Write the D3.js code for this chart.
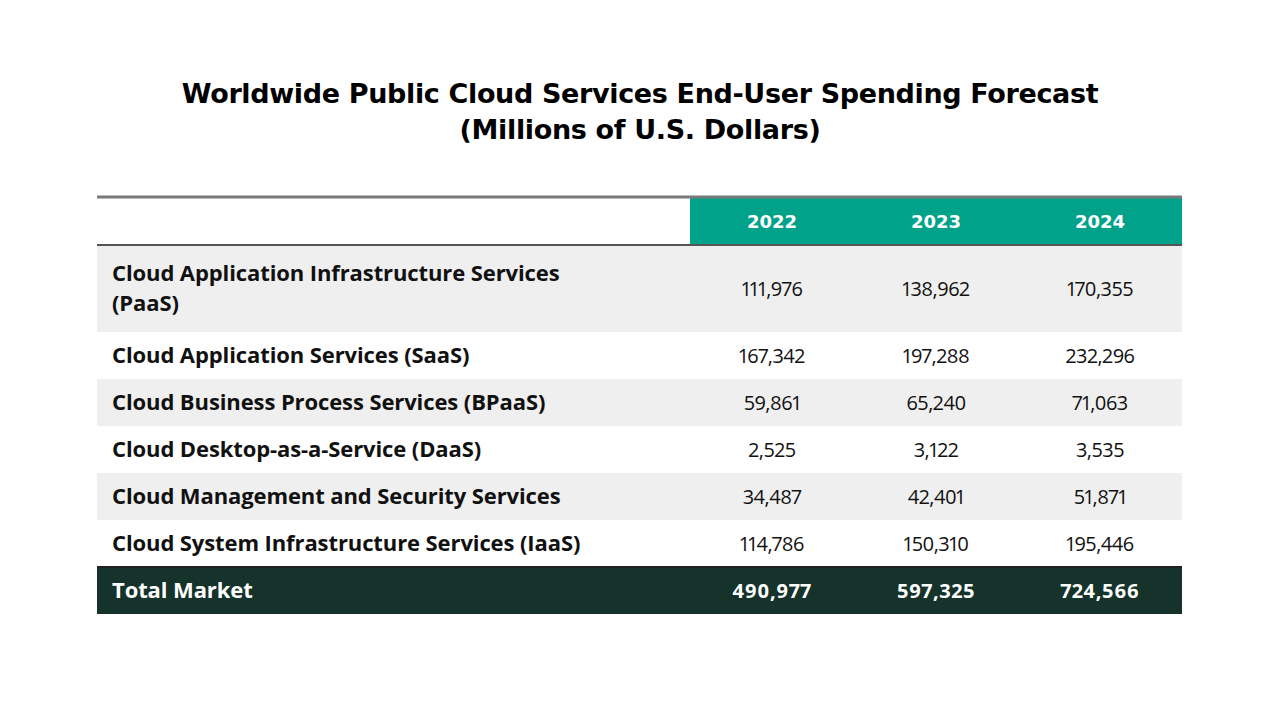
<!DOCTYPE html>
<html>
<head>
<meta charset="utf-8">
<script src="https://cdn.jsdelivr.net/npm/d3@7"></script>
<style>
  body { margin: 0; background: #fff; }
  svg text { font-family: "DejaVu Sans", sans-serif; }
  svg text.label { font-family: "Open Sans", sans-serif; }
  svg text.val { font-family: "Open Sans", sans-serif; font-variant-numeric: proportional-nums; }
</style>
</head>
<body>
<div id="chart"></div>
<script>
/* DATA */
const titleLines = ["Worldwide Public Cloud Services End-User Spending Forecast", "(Millions of U.S. Dollars)"];
const years = ["2022", "2023", "2024"];
const categories = [
  ["Cloud Application Infrastructure Services", "(PaaS)"],
  ["Cloud Application Services (SaaS)"],
  ["Cloud Business Process Services (BPaaS)"],
  ["Cloud Desktop-as-a-Service (DaaS)"],
  ["Cloud Management and Security Services"],
  ["Cloud System Infrastructure Services (IaaS)"]
];
const values2022 = [111976, 167342, 59861, 2525, 34487, 114786];
const values2023 = [138962, 197288, 65240, 3122, 42401, 150310];
const values2024 = [170355, 232296, 71063, 3535, 51871, 195446];
const totalLabel = "Total Market";
const totals = [490977, 597325, 724566];

/* LAYOUT */
const width = 1280, height = 720;
const tableLeft = 97, tableRight = 1182, labelColEnd = 690;
const tableTop = 198;
const rowUnit = 47;        // height of a one-line row
const lineStep = 30;       // extra height per extra label line
const fmt = d3.format(",");

const svg = d3.select("#chart").append("svg")
  .attr("width", width).attr("height", height);

// title
svg.selectAll(".title")
  .data(titleLines)
  .join("text")
  .attr("class", "title")
  .attr("x", width / 2)
  .attr("y", (d, i) => 103 + i * 36)
  .attr("text-anchor", "middle")
  .attr("font-size", 27)
  .attr("font-weight", 700)
  .attr("letter-spacing", -0.35)
  .attr("fill", "#000")
  .text(d => d);

// columns
const xScale = d3.scaleBand()
  .domain(years)
  .range([labelColEnd, tableRight]);

// rows: header, categories, total
const rows = [{ type: "header", lines: 1 }]
  .concat(categories.map((c, i) => ({
    type: "body", i, lines: c.length, label: c,
    vals: [values2022[i], values2023[i], values2024[i]]
  })))
  .concat([{ type: "total", lines: 1, label: [totalLabel], vals: totals }]);

let acc = 0;
rows.forEach(r => {
  r.h = r.type === "header" ? 47 : rowUnit + (r.lines - 1) * lineStep + (r.lines > 1 ? 10 : 0);
  r.y0 = acc; acc += r.h;
});
const yScale = d3.scaleLinear().domain([0, acc]).range([tableTop, tableTop + acc]);

// row backgrounds
svg.selectAll(".rowbg")
  .data(rows)
  .join("rect")
  .attr("class", "rowbg")
  .attr("x", tableLeft)
  .attr("width", tableRight - tableLeft)
  .attr("y", d => yScale(d.y0))
  .attr("height", d => yScale(d.y0 + d.h) - yScale(d.y0))
  .attr("fill", d => d.type === "total" ? "#15332b" : d.type === "header" ? "#fff" : (d.i % 2 === 0 ? "#efefef" : "#fff"));

// header cells
const header = rows[0];
svg.selectAll(".hcell")
  .data(years)
  .join("rect")
  .attr("class", "hcell")
  .attr("x", d => xScale(d))
  .attr("width", xScale.bandwidth())
  .attr("y", yScale(header.y0))
  .attr("height", header.h)
  .attr("fill", "#00a389");

svg.selectAll(".htext")
  .data(years)
  .join("text")
  .attr("class", "htext")
  .attr("x", d => xScale(d) + xScale.bandwidth() / 2)
  .attr("y", yScale(header.y0 + header.h / 2))
  .attr("dy", "0.36em")
  .attr("text-anchor", "middle")
  .attr("font-size", 18)
  .attr("font-weight", 700)
  .attr("fill", "#fff")
  .text(d => d);

// top rule and header rule
svg.append("line")
  .attr("x1", tableLeft).attr("x2", tableRight)
  .attr("y1", yScale(0) - 1).attr("y2", yScale(0) - 1)
  .attr("stroke", "#7a7a7a").attr("stroke-width", 3);
svg.append("line")
  .attr("x1", tableLeft).attr("x2", tableRight)
  .attr("y1", yScale(header.h)).attr("y2", yScale(header.h))
  .attr("stroke", "#555").attr("stroke-width", 2);

// body and total rows
const body = rows.slice(1);
const g = svg.selectAll(".row")
  .data(body)
  .join("g")
  .attr("class", "row");

g.selectAll(".label")
  .data(d => d.label.map((t, k) => ({ t, k, r: d })))
  .join("text")
  .attr("class", "label")
  .attr("x", tableLeft + 15)
  .attr("y", d => yScale(d.r.y0 + d.r.h / 2) + (d.k - (d.r.lines - 1) / 2) * lineStep)
  .attr("dy", "0.36em")
  .attr("font-size", 22)
  .attr("font-weight", 700)
  .attr("letter-spacing", -0.1)
  .attr("fill", d => d.r.type === "total" ? "#fff" : "#111")
  .text(d => d.t);

g.selectAll(".val")
  .data(d => d.vals.map((v, k) => ({ v, k, r: d })))
  .join("text")
  .attr("class", d => d.r.type === "total" ? "val total" : "val")
  .attr("x", d => xScale(years[d.k]) + xScale.bandwidth() / 2)
  .attr("y", d => yScale(d.r.y0 + d.r.h / 2))
  .attr("dy", "0.36em")
  .attr("text-anchor", "middle")
  .attr("font-size", 20)
  .attr("font-weight", d => d.r.type === "total" ? 700 : 400)
  .attr("letter-spacing", d => d.r.type === "total" ? 0.6 : -0.5)
  .attr("fill", d => d.r.type === "total" ? "#fff" : "#111")
  .text(d => fmt(d.v));

// rule above total
const total = rows[rows.length - 1];
svg.append("line")
  .attr("x1", tableLeft).attr("x2", tableRight)
  .attr("y1", yScale(total.y0)).attr("y2", yScale(total.y0))
  .attr("stroke", "#222").attr("stroke-width", 2);
</script>
</body>
</html>
